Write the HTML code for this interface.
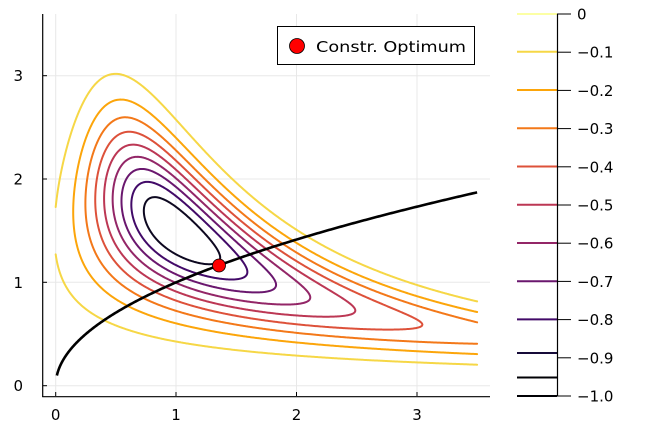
<!DOCTYPE html>
<html><head><meta charset="utf-8"><style>
html,body{margin:0;padding:0;background:#fff}
svg{display:block;font-family:"DejaVu Sans","Liberation Sans",sans-serif}
</style></head><body>
<svg id="s" width="646" height="438" viewBox="0 0 646 438" xmlns="http://www.w3.org/2000/svg">
<defs><clipPath id="c"><rect x="43" y="14" width="447" height="382"/></clipPath></defs>
<g stroke="#e8e8e8" stroke-width="1">
<line x1="55.7" y1="14" x2="55.7" y2="396"/><line x1="176" y1="14" x2="176" y2="396"/>
<line x1="296.5" y1="14" x2="296.5" y2="396"/><line x1="417" y1="14" x2="417" y2="396"/>
<line x1="43" y1="385.7" x2="490" y2="385.7"/><line x1="43" y1="282.3" x2="490" y2="282.3"/>
<line x1="43" y1="179" x2="490" y2="179"/><line x1="43" y1="75.7" x2="490" y2="75.7"/>
</g>
<g id="cont" clip-path="url(#c)" fill="none" stroke-width="2" stroke-linecap="round" stroke-linejoin="round"></g>
<path id="cons" fill="none" stroke="#000" stroke-width="2.6" clip-path="url(#c)"/>
<circle cx="219" cy="265.5" r="6.5" fill="#f00" stroke="#000" stroke-width="0.8"/>
<g stroke="#000" stroke-width="1.2">
<line x1="42.7" y1="14" x2="42.7" y2="397"/><line x1="42.2" y1="396.7" x2="490" y2="396.7"/>
</g>
<g stroke="#000" stroke-width="1">
<line x1="55.7" y1="396" x2="55.7" y2="392"/><line x1="176" y1="396" x2="176" y2="392"/>
<line x1="296.5" y1="396" x2="296.5" y2="392"/><line x1="417" y1="396" x2="417" y2="392"/>
<line x1="43" y1="385.7" x2="47" y2="385.7"/><line x1="43" y1="282.3" x2="47" y2="282.3"/>
<line x1="43" y1="179" x2="47" y2="179"/><line x1="43" y1="75.7" x2="47" y2="75.7"/>
</g>
<g font-size="15" fill="#000" text-anchor="middle">
<text x="55.7" y="420">0</text><text x="176" y="420">1</text><text x="296.5" y="420">2</text><text x="417" y="420">3</text>
</g>
<g font-size="15" fill="#000" text-anchor="end">
<text x="23" y="391">0</text><text x="23" y="288">1</text><text x="23" y="184.5">2</text><text x="23" y="81">3</text>
</g>
<rect x="277.5" y="26.5" width="197" height="38" fill="#fff" stroke="#000" stroke-width="1"/>
<circle cx="297" cy="46" r="7.5" fill="#f00" stroke="#000" stroke-width="0.8"/>
<text x="316" y="52" font-size="15.5" textLength="150" lengthAdjust="spacingAndGlyphs">Constr. Optimum</text>
<g id="cb"></g>
</svg>
<script>
var NS="http://www.w3.org/2000/svg";
function X(x){return 55.7+x*120.4}function Y(y){return 385.7-y*103.35}
function f(x,y){var a=x*y-1.5,b=y-1.5;return -Math.exp(-a*a-b*b)}
var cols={"-0.1":"#f6d746","-0.2":"#fca50a","-0.3":"#f37819","-0.4":"#dd513a","-0.5":"#bc3754","-0.6":"#932667","-0.7":"#6a176e","-0.8":"#420a68","-0.9":"#0d0820"};
var nx=350,ny=380,x0=0,x1=3.5,y0=0,y1=3.8;
var dx=(x1-x0)/nx,dy=(y1-y0)/ny,G=[];
for(var j=0;j<=ny;j++){G[j]=[];for(var i=0;i<=nx;i++)G[j][i]=f(x0+i*dx,y0+j*dy);}
var g=document.getElementById("cont");
for(var k=1;k<=9;k++){var L=-k/10,d="";
for(var j=0;j<ny;j++)for(var i=0;i<nx;i++){
var v=[G[j][i],G[j][i+1],G[j+1][i+1],G[j+1][i]];
var px=[i,i+1,i+1,i],py=[j,j,j+1,j+1],pts=[];
for(var e=0;e<4;e++){var a=v[e],b=v[(e+1)%4];
if((a<L)!=(b<L)){var t=(L-a)/(b-a);var e2=(e+1)%4;
pts.push([x0+(px[e]+t*(px[e2]-px[e]))*dx,y0+(py[e]+t*(py[e2]-py[e]))*dy]);}}
for(var p=0;p+1<pts.length;p+=2)d+="M"+X(pts[p][0]).toFixed(2)+" "+Y(pts[p][1]).toFixed(2)+"L"+X(pts[p+1][0]).toFixed(2)+" "+Y(pts[p+1][1]).toFixed(2);}
var pa=document.createElementNS(NS,"path");pa.setAttribute("d",d);pa.setAttribute("stroke",cols[L.toFixed(1)]);g.appendChild(pa);}
var d="";for(var i=0;i<=400;i++){var x=0.01+(3.5-0.01)*Math.pow(i/400,2);d+=(i?"L":"M")+X(x).toFixed(2)+" "+Y(Math.sqrt(x)).toFixed(2);}
document.getElementById("cons").setAttribute("d",d);
var cb=document.getElementById("cb"),h="";
var lc=[["#fcffa4",14],["#f6d746",51.8],["#fca50a",90],["#f37819",128.2],["#dd513a",166.5],["#bc3754",204.7],["#932667",243],["#6a176e",281.2],["#420a68",319.4],["#160b39",353],["#000004",377.5],["#000004",396]];
lc.forEach(function(c){h+='<line x1="517" x2="557" y1="'+c[1]+'" y2="'+c[1]+'" stroke="'+c[0]+'" stroke-width="2"/>';});
h+='<line x1="557.5" y1="14" x2="557.5" y2="396.5" stroke="#000" stroke-width="1.2"/>';
var labs=["0","\u22120.1","\u22120.2","\u22120.3","\u22120.4","\u22120.5","\u22120.6","\u22120.7","\u22120.8","\u22120.9","\u22121.0"];
for(var k=0;k<=10;k++){var y=14+k*38.2;h+='<line x1="557" x2="571" y1="'+y+'" y2="'+y+'" stroke="#000" stroke-width="1"/><text x="577" y="'+(y+5.5)+'" font-size="15">'+labs[k]+'</text>';}
cb.innerHTML=h;
</script>
</body></html>
